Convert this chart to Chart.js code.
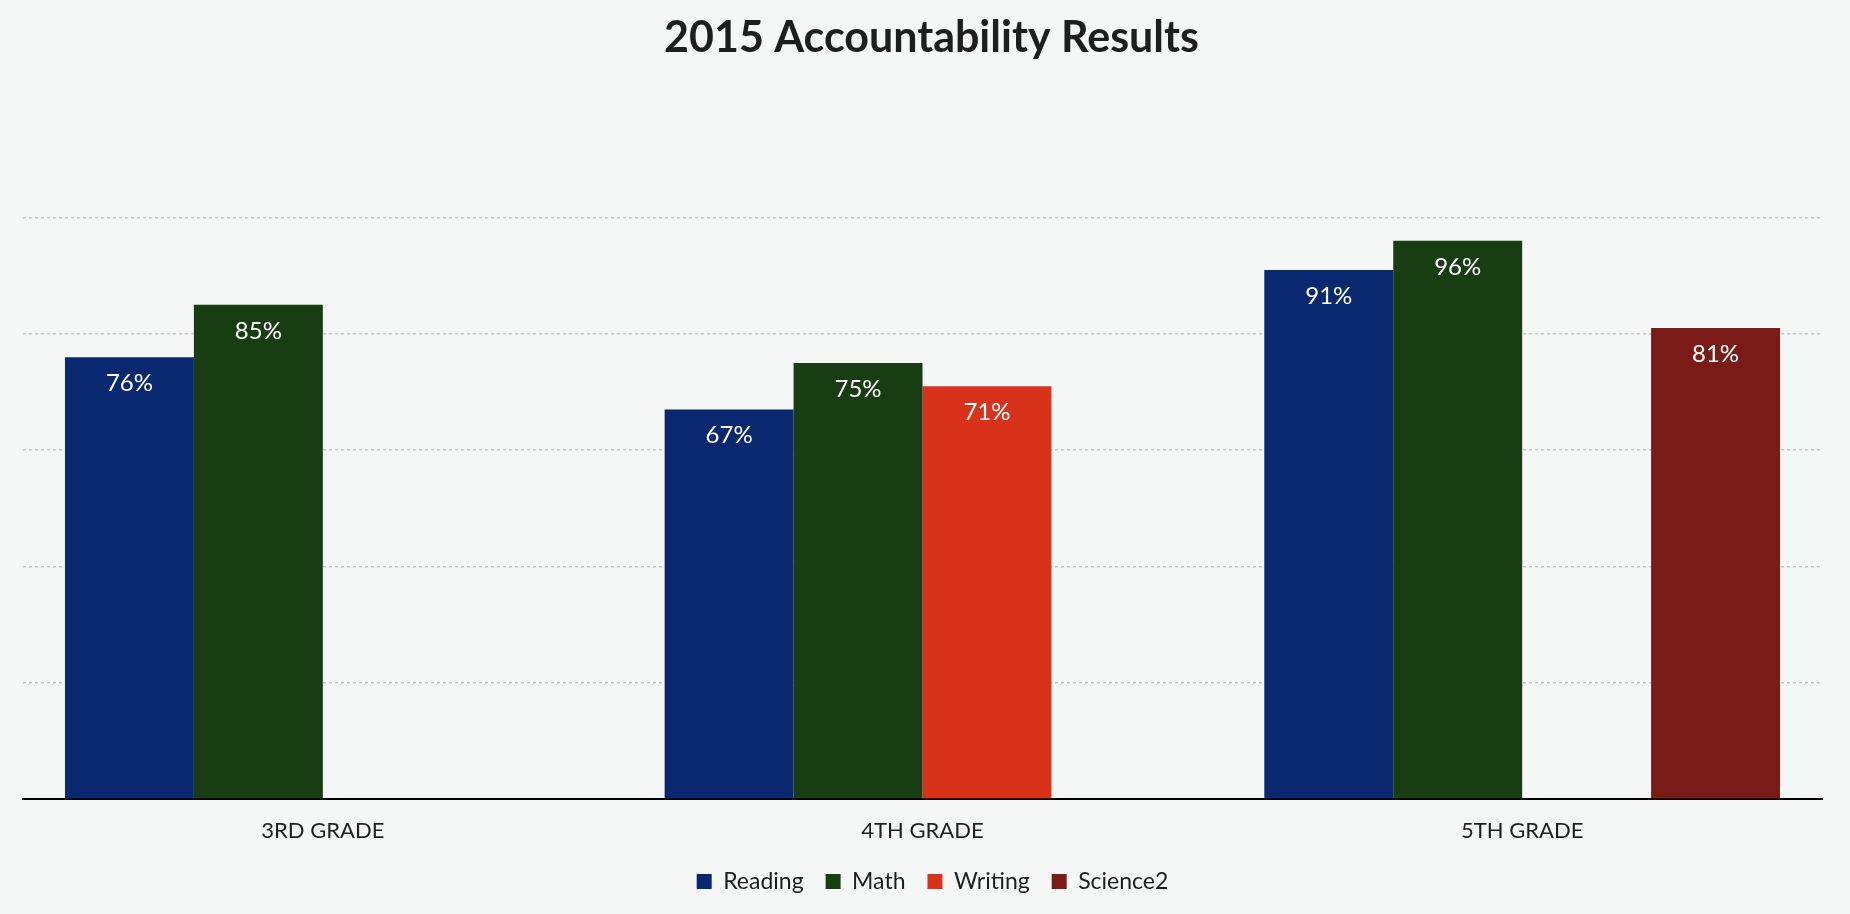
<!DOCTYPE html>
<html>
<head>
<meta charset="utf-8">
<title>2015 Accountability Results</title>
<script src="https://cdn.jsdelivr.net/npm/chart.js@4/dist/chart.umd.min.js"></script>
<style>
    html, body { margin: 0; padding: 0; background: #f4f7f5; }
    #wrap { width: 1850px; height: 914px; }
</style>
</head>
<body>
<div id="wrap"><canvas id="resultsChart"></canvas></div>
<script>
// Chart data
const grades = ['3RD GRADE', '4TH GRADE', '5TH GRADE'];
const reading = [76, 67, 91];
const math = [85, 75, 96];
const writing = [null, 71, null];
const science2 = [null, null, 81];
const yTicks = [0, 20, 40, 60, 80, 100];

// Percent labels drawn inside the top of each bar
const barLabels = {
    id: 'barLabels',
    afterDatasetsDraw(chart) {
        const c = chart.ctx;
        c.save();
        c.fillStyle = '#ffffff';
        c.font = "24px Lato, 'Open Sans', sans-serif";
        c.textAlign = 'center';
        c.textBaseline = 'middle';
        chart.data.datasets.forEach((ds, i) => {
            const meta = chart.getDatasetMeta(i);
            meta.data.forEach((bar, j) => {
                const v = ds.data[j];
                if (v === null) return;
                c.fillText(v + '%', bar.x, bar.y + 26);
            });
        });
        c.restore();
    }
};

// Keep wide gaps between legend items but pull the legend up close to the axis labels
const legendNudge = {
    id: 'legendNudge',
    afterLayout(chart) {
        const lg = chart.legend;
        lg.top -= 7; lg.bottom -= 7;
        lg.left += 10; lg.right += 10;
        const t = chart.titleBlock;
        t.left += 9; t.right += 9;
    }
};

Chart.defaults.font.family = "Lato, 'Open Sans', sans-serif";
Chart.defaults.color = '#1e1e1e';

new Chart(document.getElementById('resultsChart'), {
    type: 'bar',
    data: {
        labels: grades,
        datasets: [
            { label: 'Reading', data: reading, backgroundColor: '#0a2870' },
            { label: 'Math', data: math, backgroundColor: '#183d13' },
            { label: 'Writing', data: writing, backgroundColor: '#d8321a' },
            { label: 'Science2', data: science2, backgroundColor: '#7a1b18' }
        ]
    },
    options: {
        responsive: true,
        maintainAspectRatio: false,
        animation: false,
        datasets: {
            bar: { categoryPercentage: 0.86, barPercentage: 1.0 }
        },
        layout: { padding: { left: 23, right: 28, bottom: 4 } },
        scales: {
            x: {
                grid: { display: false },
                border: { display: true, color: '#000000', width: 2 },
                ticks: { font: { size: 22, lineHeight: 1 }, color: '#1e1e1e', padding: 13 }
            },
            y: {
                min: 0,
                max: 100,
                afterBuildTicks: axis => { axis.ticks = yTicks.map(v => ({ value: v })); },
                ticks: { display: false },
                border: { display: false, dash: [3, 3] },
                grid: {
                    drawTicks: false,
                    color: ctx => ctx.tick.value === 0 ? 'rgba(0,0,0,0)' : '#c3c7c5',
                    lineWidth: 1.5
                }
            }
        },
        plugins: {
            title: {
                display: true,
                text: '2015 Accountability Results',
                color: '#1e1e1e',
                font: { size: 43, weight: 'bold' },
                padding: { top: 12, bottom: 154 }
            },
            legend: {
                position: 'bottom',
                labels: {
                    boxWidth: 15,
                    boxHeight: 15,
                    padding: 22,
                    font: { size: 23 },
                    color: '#1e1e1e'
                }
            },
            tooltip: { enabled: false }
        }
    },
    plugins: [barLabels, legendNudge]
});
</script>
</body>
</html>
